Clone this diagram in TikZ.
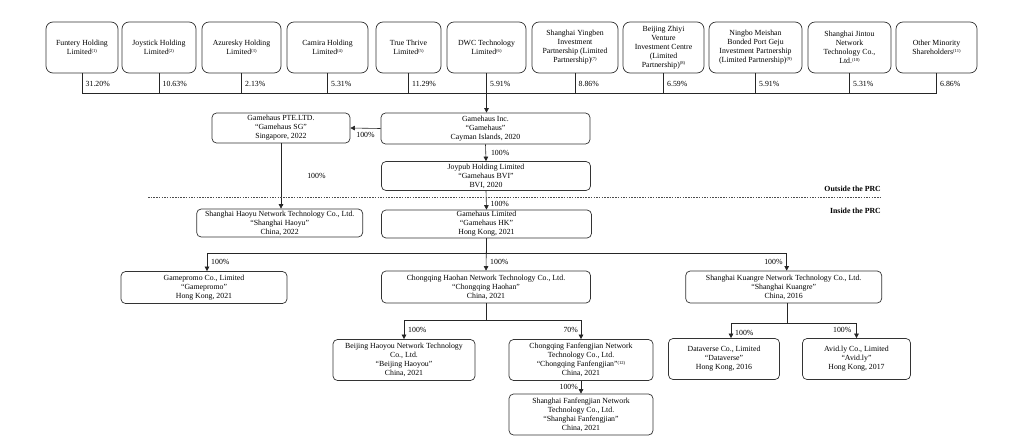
\documentclass[tikz,border=0pt]{standalone}
\usepackage{fontspec}
\setmainfont{Liberation Serif}
\usetikzlibrary{arrows.meta,calc}
\newcommand{\fnm}[1]{\raisebox{2.6pt}{\fontsize{4.6}{5}\selectfont(#1)}}
\begin{document}
\begin{tikzpicture}[x=1pt,y=-1pt,
  base/.style={draw=black!80, line width=0.7pt, align=center, inner sep=1pt, font=\fontsize{7.8}{9}\selectfont, text=black},
  topbox/.style={base, rounded corners=7pt, minimum height=51pt},
  ent/.style={base, rounded corners=4.5pt},
  conn/.style={draw=black!85, line width=0.6pt},
  arr/.style={conn, -{Triangle[length=4.5pt,width=4.5pt]}},
  pct/.style={font=\fontsize{7.8}{9}\selectfont, inner sep=1pt},
  region/.style={font=\bfseries\fontsize{7.8}{9}\selectfont, inner sep=0pt, anchor=east}
]
\fill[white] (0,0) rectangle (1036,445);
\useasboundingbox (0,0) rectangle (1036,445);

% shareholders
\node[topbox, minimum width=72pt] (s1) at (82,47.5) {Funtery Holding\\Limited\fnm{1}};
\node[topbox, minimum width=74pt] (s2) at (159,47.5) {Joystick Holding\\Limited\fnm{2}};
\node[topbox, minimum width=79pt] (s3) at (241.5,47.5) {Azuresky Holding\\Limited\fnm{3}};
\node[topbox, minimum width=81pt] (s4) at (327.5,47.5) {Camira Holding\\Limited\fnm{4}};
\node[topbox, minimum width=65pt] (s5) at (408.5,47.5) {True Thrive\\Limited\fnm{5}};
\node[topbox, minimum width=79pt] (s6) at (486.5,47.5) {DWC Technology\\Limited\fnm{6}};
\node[topbox, minimum width=86pt] (s7) at (575,47.5) {Shanghai Yingben\\Investment\\Partnership (Limited\\Partnership)\fnm{7}};
\node[topbox, minimum width=81pt] (s8) at (663.5,47.5) {Beijing Zhiyi\\Venture\\Investment Centre\\(Limited\\Partnership)\fnm{8}};
\node[topbox, minimum width=93pt] (s9) at (755.5,47.5) {Ningbo Meishan\\Bonded Port Geju\\Investment Partnership\\(Limited Partnership)\fnm{9}};
\node[topbox, minimum width=83pt] (s10) at (849.5,47.5) {Shanghai Jintou\\Network\\Technology Co.,\\Ltd.\fnm{10}};
\node[topbox, minimum width=81pt] (s11) at (936.5,47.5) {Other Minority\\Shareholders\fnm{11}};

\coordinate (pctrow) at (0,84);
\coordinate (bus) at (0,93);

% entities
\node[ent, minimum width=138pt, minimum height=30pt] (sg) at (281,128) {Gamehaus PTE.LTD.\\“Gamehaus SG”\\Singapore, 2022};
\node[ent, minimum width=209pt, minimum height=31pt] (ginc) at (485.5,128.5) {Gamehaus Inc.\\“Gamehaus”\\Cayman Islands, 2020};
\node[ent, minimum width=209pt, minimum height=29pt] (bvi) at (486,176) {Joypub Holding Limited\\“Gamehaus BVI”\\BVI, 2020};
\node[ent, minimum width=210pt, minimum height=28pt] (hk) at (486.5,224) {Gamehaus Limited\\“Gamehaus HK”\\Hong Kong, 2021};
\node[ent, minimum width=166pt, minimum height=28pt] (haoyu) at (279.7,223) {Shanghai Haoyu Network Technology Co., Ltd.\\“Shanghai Haoyu”\\China, 2022};
\node[ent, minimum width=166pt, minimum height=32pt] (gp) at (204,287.5) {Gamepromo Co., Limited\\“Gamepromo”\\Hong Kong, 2021};
\node[ent, minimum width=209pt, minimum height=32pt] (haohan) at (486,287) {Chongqing Haohan Network Technology Co., Ltd.\\“Chongqing Haohan”\\China, 2021};
\node[ent, minimum width=196pt, minimum height=32pt] (kuangre) at (783.7,287) {Shanghai Kuangre Network Technology Co., Ltd.\\“Shanghai Kuangre”\\China, 2016};
\node[ent, minimum width=142pt, minimum height=41pt] (bjhy) at (404,360) {Beijing Haoyou Network Technology\\Co., Ltd.\\“Beijing Haoyou”\\China, 2021};
\node[ent, minimum width=144pt, minimum height=41pt] (cqff) at (581,360) {Chongqing Fanfengjian Network\\Technology Co., Ltd.\\“Chongqing Fanfengjian”\fnm{12}\\China, 2021};
\node[ent, minimum width=144pt, minimum height=41pt] (shff) at (581,414.5) {Shanghai Fanfengjian Network\\Technology Co., Ltd.\\“Shanghai Fanfengjian”\\China, 2021};
\node[ent, minimum width=111pt, minimum height=41pt] (dv) at (724,359) {Dataverse Co., Limited\\“Dataverse”\\Hong Kong, 2016};
\node[ent, minimum width=108pt, minimum height=41pt] (avid) at (856.5,359) {Avid.ly Co., Limited\\“Avid.ly”\\Hong Kong, 2017};

% shareholder bus
\foreach \s/\p in {s1/31.20,s2/10.63,s3/2.13,s4/5.31,s5/11.29,s7/8.86,s8/6.59,s9/5.91,s10/5.31,s11/6.86}{
  \draw[conn] (\s.south) -- (\s.south |- bus);
  \node[pct, anchor=west] at ($(\s.south |- pctrow)+(2.5,0)$) {\p\%};
}
\node[pct, anchor=west] at ($(s6.south |- pctrow)+(2.5,0)$) {5.91\%};
\draw[conn] (s1.south |- bus) -- (s11.south |- bus);
\draw[arr] (s6.south) -- (s6.south |- ginc.north);

% ownership arrows
\draw[arr] (ginc.west) -- node[pct, below=3pt] {100\%} (sg.east);
\draw[arr] (ginc.south) -- node[pct, right=4pt] {100\%} (bvi.north);
\draw[arr] (bvi.south) -- (hk.north);
\node[pct, anchor=west] at ($(hk.north)+(3,-6)$) {100\%};
\draw[arr] (sg.south) -- node[pct, right=25pt] {100\%} (sg.south |- haoyu.north);

\coordinate (bus2) at (0,253);
\draw[arr] (hk.south) -- (hk.south |- bus2) -| ($(gp.north)+(3,0)$);
\draw[arr] (hk.south) -- (hk.south |- bus2) -| ($(kuangre.north)+(3,0)$);
\draw[arr] (hk.south) -- (haohan.north);
\node[pct, anchor=west] at ($(gp.north)+(6,-9)$) {100\%};
\node[pct, anchor=west] at ($(haohan.north)+(3,-9)$) {100\%};
\node[pct, anchor=east] at ($(kuangre.north)+(0,-9)$) {100\%};

\coordinate (bus3) at (0,320.7);
\draw[arr] (haohan.south) -- (haohan.south |- bus3) -| (bjhy.north);
\draw[arr] (haohan.south) -- (haohan.south |- bus3) -| (cqff.north);
\node[pct, anchor=west] at ($(bjhy.north)+(3,-9)$) {100\%};
\node[pct, anchor=east] at ($(cqff.north)+(-2,-9)$) {70\%};
\draw[arr] (cqff.south) -- (shff.north);
\node[pct, anchor=east] at ($(shff.north)+(-2,-6.5)$) {100\%};

\coordinate (bus4) at (0,323.3);
\draw[arr] ($(kuangre.south)+(4,0)$) -- ($(kuangre.south |- bus4)+(4,0)$) -| ($(dv.north)+(7,0)$);
\draw[arr] ($(kuangre.south)+(4,0)$) -- ($(kuangre.south |- bus4)+(4,0)$) -| (avid.north);
\node[pct, anchor=west] at ($(dv.north)+(10,-5)$) {100\%};
\node[pct, anchor=east] at ($(avid.north)+(-4,-8)$) {100\%};

% region separator
\draw[black!70, line width=0.5pt, dash pattern=on 1.5pt off 1.2pt] (148,197) -- (881,197);
\node[region] (outside) at (881,189) {Outside the PRC};
\node[region] (inside) at (881,211) {Inside the PRC};
\end{tikzpicture}
\end{document}
